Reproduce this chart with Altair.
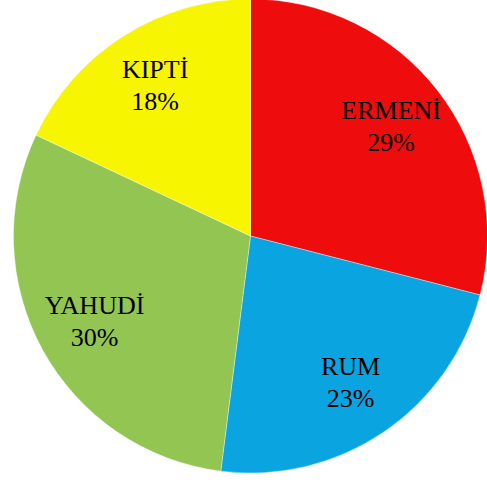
import altair as alt
import pandas as pd

groups = ["ERMENİ", "RUM", "YAHUDİ", "KIPTİ"]
shares = [29, 23, 30, 18]
colors = ["#EE0C0C", "#0AA4E0", "#92C551", "#F8F500"]

df = pd.DataFrame({
    "group": groups,
    "share": shares,
    "idx": list(range(len(groups))),
    "pct": [f"{v}%" for v in shares],
})

base = alt.Chart(df).encode(
    theta=alt.Theta("share:Q", stack=True),
    order=alt.Order("idx:Q"),
)

pie = base.mark_arc(outerRadius=237, stroke="#ffffff", strokeWidth=0.6, strokeOpacity=0.6).encode(
    color=alt.Color("group:N", scale=alt.Scale(domain=groups, range=colors), legend=None)
)

font = "Liberation Serif"
lab1 = base.mark_text(radius=178, dy=-16, font=font, fontSize=26, color="#000000", baseline="middle").encode(
    text="group:N"
)
lab2 = base.mark_text(radius=178, dy=16, font=font, fontSize=26, color="#000000", baseline="middle").encode(
    text="pct:N"
)

chart = alt.layer(pie, lab1, lab2).properties(
    width=487,
    height=482,
    autosize=alt.AutoSizeParams(type="fit", contains="padding"),
    padding={"left": 14, "right": 0, "top": 0, "bottom": 10},
).configure_view(stroke=None).configure(background="#ffffff")

chart.save("out.html", embed_options={"renderer": "svg", "actions": False})
